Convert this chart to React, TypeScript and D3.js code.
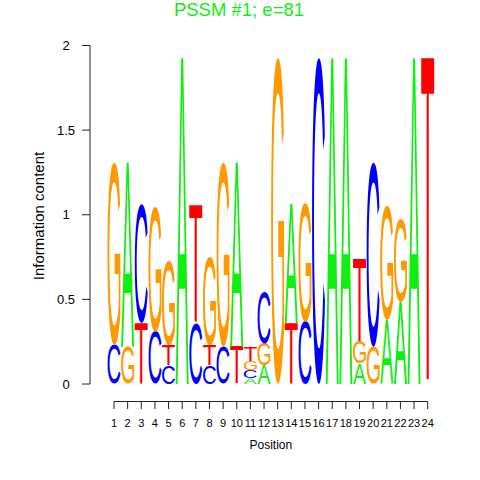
import React, { useEffect, useRef } from 'react';
import * as d3 from 'd3';

// information content of each base at each position
const positions = d3.range(1, 25);
const heightsA = [0, 1.09, 0, 0, 0, 1.93, 0, 0, 0, 1.09, 0.035, 0.11, 0, 0.7, 0, 0, 1.93, 1.93, 0.12, 0, 0.38, 0.485, 1.93, 0];
const heightsC = [0.23, 0, 0.7, 0.31, 0.11, 0, 0.36, 0.11, 0.22, 0, 0.045, 0.3, 0, 0, 0.37, 1.93, 0, 0, 0, 1.09, 0, 0, 0, 0];
const heightsG = [1.08, 0.22, 0, 0.74, 0.5, 0, 0, 0.52, 1.09, 0, 0.055, 0.13, 1.93, 0, 0.7, 0, 0, 0, 0.13, 0.22, 0.68, 0.49, 0, 0];
const heightsT = [0, 0, 0.36, 0, 0.12, 0, 0.7, 0.12, 0, 0.22, 0.085, 0, 0, 0.36, 0, 0, 0, 0, 0.49, 0, 0, 0, 0, 1.93];
const yTicks = [0, 0.5, 1, 1.5, 2];

const baseColors: Record<string, string> = {
  A: '#11ee11',
  C: '#0000ff',
  G: '#ff9900',
  T: '#ff0000',
};

const letterFont = "100px 'Liberation Sans'";

const App = () => {
  const svgRef = useRef<SVGSVGElement>(null);

  useEffect(() => {
    const svg = d3.select(svgRef.current);
    svg.selectAll('*').remove();

    const x = d3.scaleLinear().domain([1, 24]).range([114, 427.7]);
    const y = d3.scaleLinear().domain([0, 2]).range([384, 45.5]);
    const colW = x(2) - x(1);

    // tight glyph bounds, so each letter can be stretched to its box
    const ctx = document.createElement('canvas').getContext('2d')!;
    ctx.font = letterFont;
    const bounds: Record<string, any> = {};
    'ACGT'.split('').forEach(b => {
      const m = ctx.measureText(b);
      bounds[b] = {
        left: m.actualBoundingBoxLeft,
        right: m.actualBoundingBoxRight,
        ascent: m.actualBoundingBoxAscent,
        descent: m.actualBoundingBoxDescent,
      };
    });

    const letters = svg.append('g');
    positions.forEach((p, i) => {
      const stack = [
        { base: 'A', h: heightsA[i] },
        { base: 'C', h: heightsC[i] },
        { base: 'G', h: heightsG[i] },
        { base: 'T', h: heightsT[i] },
      ]
        .filter(d => d.h > 0)
        .sort((a, b) => a.h - b.h);

      let cum = 0;
      stack.forEach(d => {
        const y0 = y(cum + d.h);
        const y1 = y(cum);
        cum += d.h;
        const bb = bounds[d.base];
        const w = colW - 0.6;
        const sx = w / (bb.left + bb.right);
        const sy = (y1 - y0) / (bb.ascent + bb.descent);
        letters.append('text')
          .attr('transform', `translate(${x(p) - w / 2},${y0}) scale(${sx},${sy}) translate(${bb.left},${bb.ascent})`)
          .style('font', letterFont)
          .attr('fill', baseColors[d.base])
          .text(d.base);
      });
    });

    // y axis
    const yAxis = svg.append('g').attr('font-family', "'Liberation Sans'").attr('font-size', 13);
    yAxis.append('line')
      .attr('x1', 90).attr('x2', 90)
      .attr('y1', y(0)).attr('y2', y(2))
      .attr('stroke', '#222');
    yTicks.forEach(t => {
      yAxis.append('line')
        .attr('x1', 82).attr('x2', 90)
        .attr('y1', y(t)).attr('y2', y(t))
        .attr('stroke', '#222');
      yAxis.append('text')
        .attr('x', 66).attr('y', y(t) + 4.5)
        .attr('text-anchor', 'middle')
        .text(t);
    });
    yAxis.append('text')
      .attr('transform', 'translate(44,216) rotate(-90)')
      .attr('text-anchor', 'middle')
      .attr('font-size', 15)
      .text('Information content');

    // x axis
    const xAxis = svg.append('g').attr('font-family', "'Liberation Sans'").attr('font-size', 11);
    xAxis.append('line')
      .attr('x1', x(1)).attr('x2', x(24))
      .attr('y1', 401.5).attr('y2', 401.5)
      .attr('stroke', '#222');
    positions.forEach(p => {
      xAxis.append('line')
        .attr('x1', x(p)).attr('x2', x(p))
        .attr('y1', 401.5).attr('y2', 409)
        .attr('stroke', '#222');
      xAxis.append('text')
        .attr('x', x(p)).attr('y', 427)
        .attr('text-anchor', 'middle')
        .text(p);
    });
    xAxis.append('text')
      .attr('x', (x(1) + x(24)) / 2).attr('y', 449)
      .attr('text-anchor', 'middle')
      .attr('font-size', 12)
      .text('Position');

    svg.append('text')
      .attr('x', 239).attr('y', 16)
      .attr('text-anchor', 'middle')
      .attr('font-family', "'Liberation Sans'")
      .attr('font-size', 18.5)
      .attr('fill', '#11ee11')
      .text('PSSM #1; e=81');
  }, []);

  return (
    <svg
      ref={svgRef}
      width={480}
      height={480}
      style={{ position: 'absolute', left: 0, top: 0, background: '#fff' }}
    />
  );
};

export default App;
